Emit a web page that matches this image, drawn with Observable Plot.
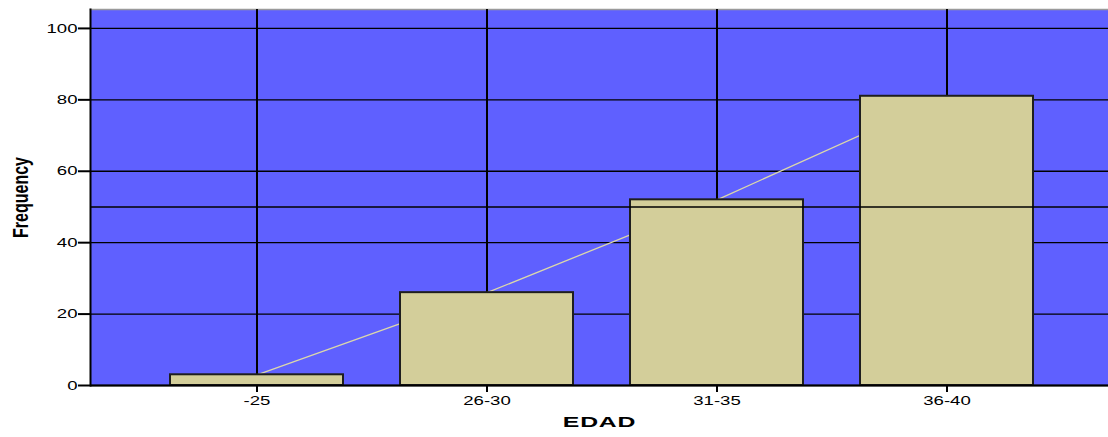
<!DOCTYPE html>
<html>
<head>
<meta charset="utf-8">
<script src="https://cdn.jsdelivr.net/npm/d3@7"></script>
<script src="https://cdn.jsdelivr.net/npm/@observablehq/plot@0.6"></script>
<style>
  html, body { margin: 0; padding: 0; background: #ffffff; }
</style>
</head>
<body>
<div id="chart"></div>
<script>
// Age groups (EDAD) and their frequencies
const ageGroups = ["-25", "26-30", "31-35", "36-40"];
const frequencies = [3, 26, 52, 81];
const yTicks = [0, 20, 40, 60, 80, 100];
const referenceLine = [50];

const rows = ageGroups.map((g, i) => ({edad: g, freq: frequencies[i]}));

const plotBlue = "#5f60ff";
const barFill = "#d3ce9a";
const trendColor = "#dcd8aa";

const chart = Plot.plot({
  width: 1108,
  height: 437,
  marginLeft: 90,
  marginRight: 0,
  marginTop: 9,
  marginBottom: 52,
  style: {fontFamily: "'Liberation Sans', Arial, sans-serif", fontSize: "13px", background: "#ffffff", color: "#000000"},
  x: {type: "band", domain: ageGroups, range: [141, 1061], paddingInner: 0.25, paddingOuter: 0.125, label: null},
  y: {domain: [0, 105.3], label: null},
  marks: [
    Plot.frame({fill: plotBlue}),
    Plot.frame({anchor: "top", stroke: "#9a9a9a", strokeWidth: 1.5}),
    // horizontal grid
    Plot.ruleY(yTicks, {stroke: "#000000", strokeWidth: 1.4}),
    // vertical grid at category centres
    Plot.ruleX(ageGroups, {stroke: "#000000", strokeWidth: 2}),
    // trend through bar tops
    Plot.line(rows, {x: "edad", y: "freq", stroke: trendColor, strokeWidth: 1.3}),
    Plot.barY(rows, {x: "edad", y: "freq", fill: barFill, stroke: "#1e1e1e", strokeWidth: 2}),
    // reference line at 50 drawn over the bars
    Plot.ruleY(referenceLine, {stroke: "#000000", strokeWidth: 1.4}),
    Plot.ruleY([0], {stroke: "#000000", strokeWidth: 2}),
    Plot.frame({anchor: "left", stroke: "#000000", strokeWidth: 2}),
    Plot.axisY({ticks: yTicks, tickSize: 12, tickPadding: 1, strokeWidth: 2, label: null}),
    Plot.axisX({tickSize: 7, tickPadding: 3, strokeWidth: 2, label: null}),
    Plot.text(["EDAD"], {frameAnchor: "bottom", dy: 41, fontWeight: "bold", fontSize: 15.5}),
    Plot.text(["Frequency"], {frameAnchor: "left", textAnchor: "middle", dx: -70, rotate: -90, fontWeight: "bold", fontSize: 16})
  ]
});

// the text of this chart is drawn wide: stretch every label horizontally
d3.select(chart).selectAll("text").each(function () {
  const t = this.getAttribute("transform") || "";
  const stretch = this.textContent === "EDAD" ? 1.6 : 1.43;
  if (/translate\(/.test(t)) {
    this.setAttribute("transform", t.replace(/(translate\([^)]*\))/, `$1 scale(${stretch},1)`));
  }
  if (this.textContent === "EDAD") this.setAttribute("letter-spacing", "0.5");
});

document.getElementById("chart").appendChild(chart);
</script>
</body>
</html>
